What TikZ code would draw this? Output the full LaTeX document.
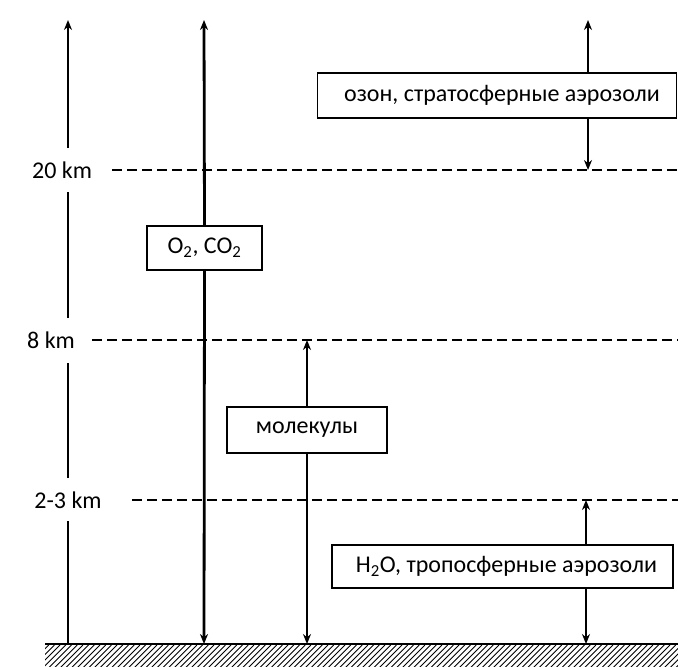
\documentclass[tikz,border=0pt]{standalone}
\usepackage{fontspec}
\setmainfont{Carlito}
\usetikzlibrary{arrows.meta}
\begin{document}
\begin{tikzpicture}[x=1pt,y=-1pt,
  axis/.style={line width=2.8pt},
  tip/.style={line width=2.8pt,-{Stealth[length=10pt,width=8pt]}},
  lvl/.style={line width=2.8pt, dash pattern=on 10pt off 5pt},
  box/.style={draw, line width=1.5pt, fill=white, inner sep=0pt, font=\fontsize{24}{27}\selectfont},
  km/.style={font=\fontsize{24}{27}\selectfont, inner sep=0pt}]
\useasboundingbox (0,0) rectangle (678,667);
% level labels
\node[km] (k20) at (62,170) {20 km};
\node[km] (k8) at (51,340) {8 km};
\node[km] (k23) at (68,500) {2-3 km};
% left axis
\coordinate (axtop) at (68,20);
\draw[axis] (68,644) -- (68,521);
\draw[axis] (68,478) -- (68,363);
\draw[axis] (68,318) -- (68,192);
\draw[tip] (68,148) -- (axtop);
% dashed levels
\coordinate (d20) at (678,170);
\coordinate (d8) at (678,340);
\coordinate (d23) at (678,500);
\draw[lvl] (112,170) -- (d20);
\draw[lvl] (92,340) -- (d8);
\draw[lvl] (132,500) -- (d23);
% ground
\coordinate (gl) at (45,644);
\coordinate (gr) at (678,644);
\begin{scope}
\clip (45,645) rectangle (678,667);
\foreach \i in {20,25.7,...,690} \draw[line width=0.9pt] (\i,668) -- (\i+23,645);
\end{scope}
\draw[line width=1.8pt] (gl) -- (gr);
% boxes
\node[box, minimum width=359pt, minimum height=45pt] (oz) at (497,95.5) {\hspace{10pt}озон, стратосферные аэрозоли};
\node[box, minimum width=115pt, minimum height=44pt] (o2) at (204.5,248) {O\textsubscript{2}, CO\textsubscript{2}};
\node[box, minimum width=160pt, minimum height=46pt] (mol) at (307,430) {молекулы};
\node[box, minimum width=341pt, minimum height=43pt] (h2o) at (502.5,566.5) {\hspace{8pt}H\textsubscript{2}O, тропосферные аэрозоли};
% arrows
\coordinate (t204) at (204,20);
\coordinate (b204) at (204,644);
\draw[tip] (o2.north) -- (t204);
\draw[tip] (o2.south) -- (b204);
\coordinate (t307) at (307,340);
\coordinate (b307) at (307,644);
\draw[tip] (mol.north) -- (t307);
\draw[tip] (mol.south) -- (b307);
\coordinate (t588) at (588,20);
\coordinate (b588) at (588,170);
\draw[tip] (oz.north -| t588) -- (t588);
\draw[tip] (oz.south -| t588) -- (b588);
\coordinate (t586) at (586,500);
\coordinate (b586) at (586,644);
\draw[tip] (h2o.north -| t586) -- (t586);
\draw[tip] (h2o.south -| t586) -- (b586);
\end{tikzpicture}
\end{document}
